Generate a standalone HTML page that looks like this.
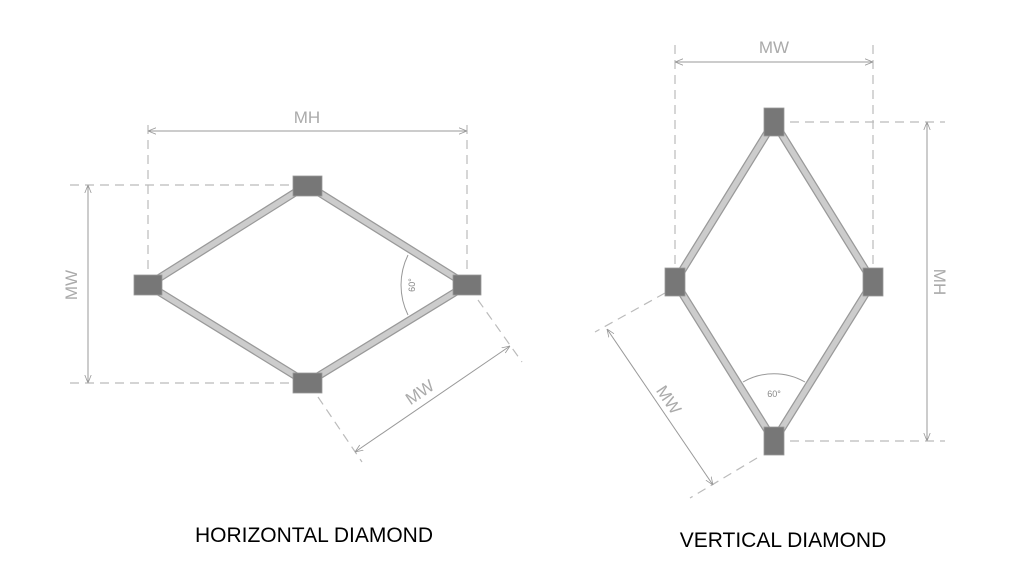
<!DOCTYPE html>
<html><head><style>body{margin:0;background:#fff}svg{display:block}</style></head><body>
<svg width="1024" height="585" viewBox="0 0 1024 585" xmlns="http://www.w3.org/2000/svg" font-family="Liberation Sans, sans-serif">
<defs>
<marker id="a" viewBox="0 0 10 10" refX="10" refY="5" markerWidth="8" markerHeight="8" orient="auto-start-reverse"><path d="M0,1 L10,5 L0,9" fill="none" stroke="#999" stroke-width="1"/></marker>
</defs>
<g stroke="#bbb" stroke-width="1.2" stroke-dasharray="9,6" fill="none">
<line x1="148" y1="125" x2="148" y2="275"/><line x1="467" y1="125" x2="467" y2="275"/>
<line x1="70" y1="185" x2="293" y2="185"/><line x1="70" y1="383" x2="293" y2="383"/>
<line x1="478" y1="300" x2="522" y2="362"/><line x1="318" y1="397" x2="362" y2="462"/>
<line x1="675" y1="45" x2="675" y2="268"/><line x1="873" y1="45" x2="873" y2="268"/>
<line x1="790" y1="122" x2="945" y2="122"/><line x1="790" y1="441" x2="945" y2="441"/>
<line x1="665" y1="293" x2="595" y2="332"/><line x1="757" y1="458" x2="690" y2="498"/>
</g>
<g stroke="#999" stroke-width="1" fill="none">
<line x1="148" y1="131" x2="467" y2="131" marker-start="url(#a)" marker-end="url(#a)"/>
<line x1="88" y1="185" x2="88" y2="383" marker-start="url(#a)" marker-end="url(#a)"/>
<line x1="355" y1="452" x2="510" y2="346" marker-start="url(#a)" marker-end="url(#a)"/>
<line x1="675" y1="62" x2="873" y2="62" marker-start="url(#a)" marker-end="url(#a)"/>
<line x1="927" y1="122" x2="927" y2="441" marker-start="url(#a)" marker-end="url(#a)"/>
<line x1="607" y1="329" x2="713" y2="485" marker-start="url(#a)" marker-end="url(#a)"/>
<path d="M408,255 A68,68 0 0 0 408,315"/>
<path d="M743,382 A62,62 0 0 1 805,382"/>
</g>
<g stroke="#999" stroke-width="8" stroke-linecap="butt">
<path d="M148,285 L307,185 L467,285 L307,383 Z" fill="none"/>
<path d="M774,122 L873,282 L774,441 L675,282 Z" fill="none"/>
</g>
<g stroke="#ccc" stroke-width="5.5">
<path d="M148,285 L307,185 L467,285 L307,383 Z" fill="none"/>
<path d="M774,122 L873,282 L774,441 L675,282 Z" fill="none"/>
</g>
<g fill="#777" stroke="#999" stroke-width="0.8">
<rect x="134" y="275" width="28" height="20"/><rect x="293" y="176" width="29" height="20"/>
<rect x="453" y="275" width="28" height="20"/><rect x="293" y="373" width="29" height="20"/>
<rect x="764" y="108" width="20" height="28"/><rect x="665" y="268" width="20" height="28"/>
<rect x="863" y="268" width="20" height="28"/><rect x="764" y="427" width="20" height="28"/>
</g>
<g fill="#aaa" font-size="17" text-anchor="middle">
<text x="307" y="123">MH</text>
<text x="774" y="53">MW</text>
<text transform="translate(77,285) rotate(-90)">MW</text>
<text transform="translate(934,282) rotate(90)">MH</text>
<text transform="translate(423,397) rotate(-34)">MW</text>
<text transform="translate(664,403) rotate(56)">MW</text>
<text transform="translate(415,285) rotate(-90)" font-size="9" fill="#888">60°</text>
<text x="774" y="397" font-size="9" fill="#888">60°</text>
</g>
<g fill="#000" font-size="21" text-anchor="middle">
<text x="314" y="542">HORIZONTAL DIAMOND</text>
<text x="783" y="547">VERTICAL DIAMOND</text>
</g>
</svg>
</body></html>
